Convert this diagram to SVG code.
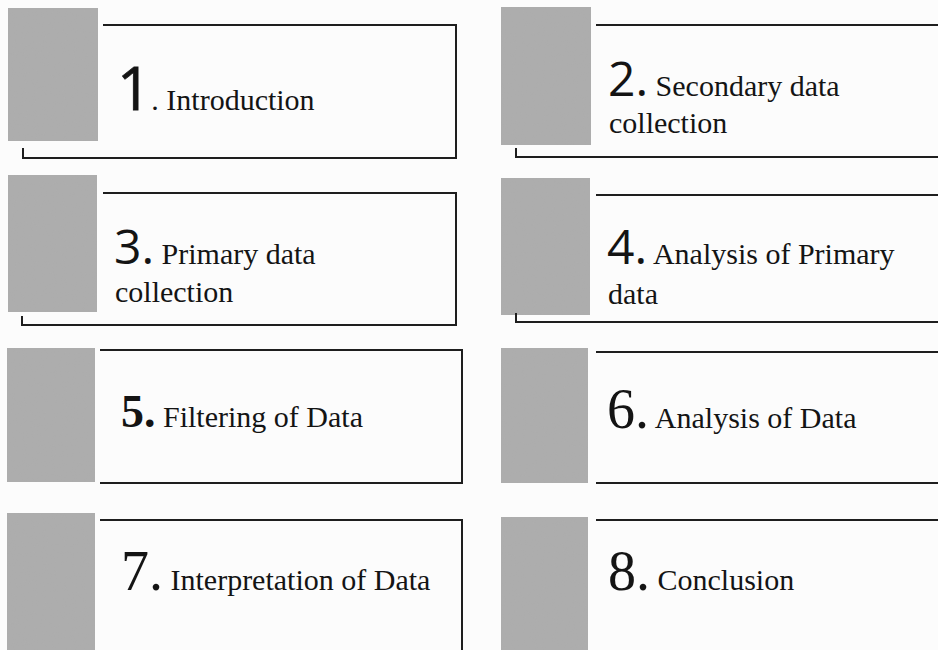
<svg xmlns="http://www.w3.org/2000/svg" width="938" height="650" viewBox="0 0 938 650">
  <defs>
    <!-- light grain for the grey tabs -->
    <filter id="grain" x="0" y="0" width="100%" height="100%">
      <feTurbulence type="fractalNoise" baseFrequency="0.9" numOctaves="2" seed="3" result="n"/>
      <feColorMatrix in="n" type="matrix" values="0 0 0 0 0.45  0 0 0 0 0.45  0 0 0 0 0.45  0 0 0 0.35 0" result="speck"/>
      <feComposite in="speck" in2="SourceGraphic" operator="in" result="clip"/>
      <feMerge><feMergeNode in="SourceGraphic"/><feMergeNode in="clip"/></feMerge>
    </filter>
  </defs>
  <style>
    .bg { fill: #fcfcfc; }
    .tab { fill: #acacac; }
    .frame { fill: none; stroke: #1e1e1e; stroke-width: 2; }
    .lbl { font-family: "Liberation Serif", "Times New Roman", serif; font-size: 30px; fill: #141414; }
    .num-sans { font-family: "Open Sans", "Noto Sans", sans-serif; font-size: 48px; }
    .num-one { font-family: "Open Sans", "Noto Sans", sans-serif; font-size: 60px; stroke: #141414; stroke-width: 0.8; }
    .num-serif { font-family: "Liberation Serif", "Times New Roman", serif; font-size: 56px; }
    .num-bold { font-family: "Liberation Serif", "Times New Roman", serif; font-size: 46px; font-weight: bold; }
  </style>
  <rect class="bg" x="0" y="0" width="938" height="650"/>

  <!-- step 1 -->
  <g id="step1">
    <rect class="tab" x="8" y="8" width="90" height="133" filter="url(#grain)"/>
    <path class="frame" d="M103,25 H456 V158 H23 V148"/>
    <text class="lbl" x="117" y="110"><tspan class="num-one">1</tspan>. Introduction</text>
  </g>

  <!-- step 2 -->
  <g id="step2">
    <rect class="tab" x="501" y="7" width="90" height="138" filter="url(#grain)"/>
    <path class="frame" d="M596,25 H940"/>
    <path class="frame" d="M516,148 V157 H940"/>
    <text class="lbl" x="608" y="96"><tspan class="num-sans">2.</tspan> Secondary data</text>
    <text class="lbl" x="609" y="133">collection</text>
  </g>

  <!-- step 3 -->
  <g id="step3">
    <rect class="tab" x="8" y="175" width="89" height="137" filter="url(#grain)"/>
    <path class="frame" d="M103,193 H456 V325 H22 V316"/>
    <text class="lbl" x="114" y="264"><tspan class="num-sans">3.</tspan> Primary data</text>
    <text class="lbl" x="115" y="302">collection</text>
  </g>

  <!-- step 4 -->
  <g id="step4">
    <rect class="tab" x="501" y="178" width="89" height="137" filter="url(#grain)"/>
    <path class="frame" d="M596,195 H940"/>
    <path class="frame" d="M516,313 V322 H940"/>
    <text class="lbl" x="607" y="264"><tspan class="num-sans">4.</tspan> Analysis of Primary</text>
    <text class="lbl" x="608" y="304">data</text>
  </g>

  <!-- step 5 -->
  <g id="step5">
    <rect class="tab" x="7" y="348" width="88" height="134" filter="url(#grain)"/>
    <path class="frame" d="M100,350 H462 V483 H100"/>
    <text class="lbl" x="121" y="427"><tspan class="num-bold">5.</tspan> Filtering of Data</text>
  </g>

  <!-- step 6 -->
  <g id="step6">
    <rect class="tab" x="501" y="348" width="87" height="135" filter="url(#grain)"/>
    <path class="frame" d="M596,352 H940"/>
    <path class="frame" d="M596,483 H940"/>
    <text class="lbl" x="607" y="428"><tspan class="num-serif">6.</tspan> Analysis of Data</text>
  </g>

  <!-- step 7 -->
  <g id="step7">
    <rect class="tab" x="7" y="513" width="88" height="140" filter="url(#grain)"/>
    <path class="frame" d="M100,520 H462 V652"/>
    <text class="lbl" x="121" y="590"><tspan class="num-serif">7.</tspan> Interpretation of Data</text>
  </g>

  <!-- step 8 -->
  <g id="step8">
    <rect class="tab" x="501" y="517" width="87" height="136" filter="url(#grain)"/>
    <path class="frame" d="M596,520 H940"/>
    <text class="lbl" x="608" y="590"><tspan class="num-serif">8.</tspan> Conclusion</text>
  </g>

  <g id="connectors"/>
</svg>
